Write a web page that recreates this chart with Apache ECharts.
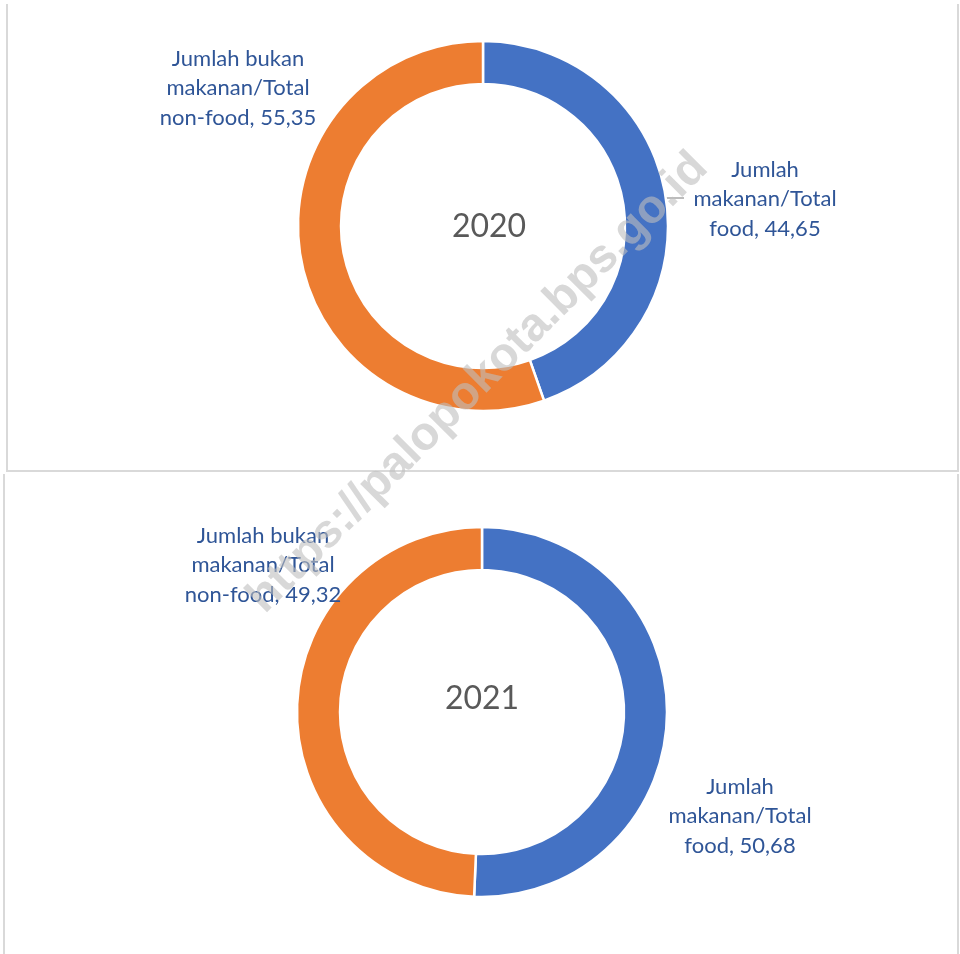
<!DOCTYPE html>
<html>
<head>
<meta charset="utf-8">
<script src="https://cdn.jsdelivr.net/npm/echarts@6/dist/echarts.min.js"></script>
<style>html,body{margin:0;padding:0;background:#fff}#c{width:960px;height:954px}</style>
</head>
<body>
<div id="c"></div>
<script>
var years = ['2020', '2021'];
var categories = ['Jumlah\nmakanan/Total\nfood', 'Jumlah bukan\nmakanan/Total\nnon-food'];
var food = [44.65, 50.68];
var nonFood = [55.35, 49.32];
var colors = ['#4472C4', '#ED7D31'];
var watermark = 'https://palopokota.bps.go.id';

function fmt(v) { return v.toFixed(2).replace('.', ','); }

var centers = [[483, 226], [482, 712]];
// label anchor positions (x center, y middle) per panel: [food, nonFood]
var labelPos = [
  [[765, 199], [238, 88]],
  [[740, 816], [263, 565]]
];

var series = years.map(function (y, i) {
  return {
    type: 'pie',
    name: y,
    center: centers[i],
    radius: [142, 185],
    startAngle: 90,
    clockwise: true,
    avoidLabelOverlap: false,
    silent: true,
    itemStyle: { borderColor: '#ffffff', borderWidth: 2.5 },
    label: {
      show: true,
      formatter: function (p) { return p.name + ', ' + fmt(p.value); },
      color: '#2F5597',
      fontFamily: 'Lato',
      fontSize: 22,
      lineHeight: 29.5,
      align: 'center'
    },
    labelLine: { show: false },
    labelLayout: function (p) {
      var pos = labelPos[i][p.dataIndex];
      return { x: pos[0], y: pos[1], align: 'center', verticalAlign: 'middle' };
    },
    data: [
      { name: categories[0], value: food[i], itemStyle: { color: colors[0] } },
      { name: categories[1], value: nonFood[i], itemStyle: { color: colors[1] } }
    ]
  };
});

var borderStyle = { stroke: '#d9d9d9', lineWidth: 2 };
var graphic = [
  { type: 'line', shape: { x1: 7, y1: 4, x2: 7, y2: 472 }, style: borderStyle },
  { type: 'line', shape: { x1: 6, y1: 471, x2: 959, y2: 471 }, style: borderStyle },
  { type: 'line', shape: { x1: 958, y1: 4, x2: 958, y2: 472 }, style: borderStyle },
  { type: 'line', shape: { x1: 4, y1: 474, x2: 4, y2: 954 }, style: borderStyle },
  { type: 'line', shape: { x1: 958, y1: 474, x2: 958, y2: 954 }, style: borderStyle },
  { type: 'line', shape: { x1: 645, y1: 198, x2: 684, y2: 198 }, style: { stroke: '#a6a6a6', lineWidth: 1.5 } },
  { type: 'text', x: 489, y: 227, style: { text: years[0], fill: '#595959', font: '32px Lato', textAlign: 'center', textVerticalAlign: 'middle' } },
  { type: 'text', x: 482, y: 699, style: { text: years[1], fill: '#595959', font: '32px Lato', textAlign: 'center', textVerticalAlign: 'middle' } },
  { type: 'text', x: 478, y: 383, rotation: Math.PI / 4, z: 100, style: { text: watermark, fill: 'rgba(190,190,190,0.6)', font: 'bold 47px "Liberation Sans"', textAlign: 'center', textVerticalAlign: 'middle' } }
];

var chart = echarts.init(document.getElementById('c'), null, { renderer: 'canvas' });
chart.setOption({
  animation: false,
  backgroundColor: '#ffffff',
  series: series,
  graphic: graphic
});
</script>
</body>
</html>
